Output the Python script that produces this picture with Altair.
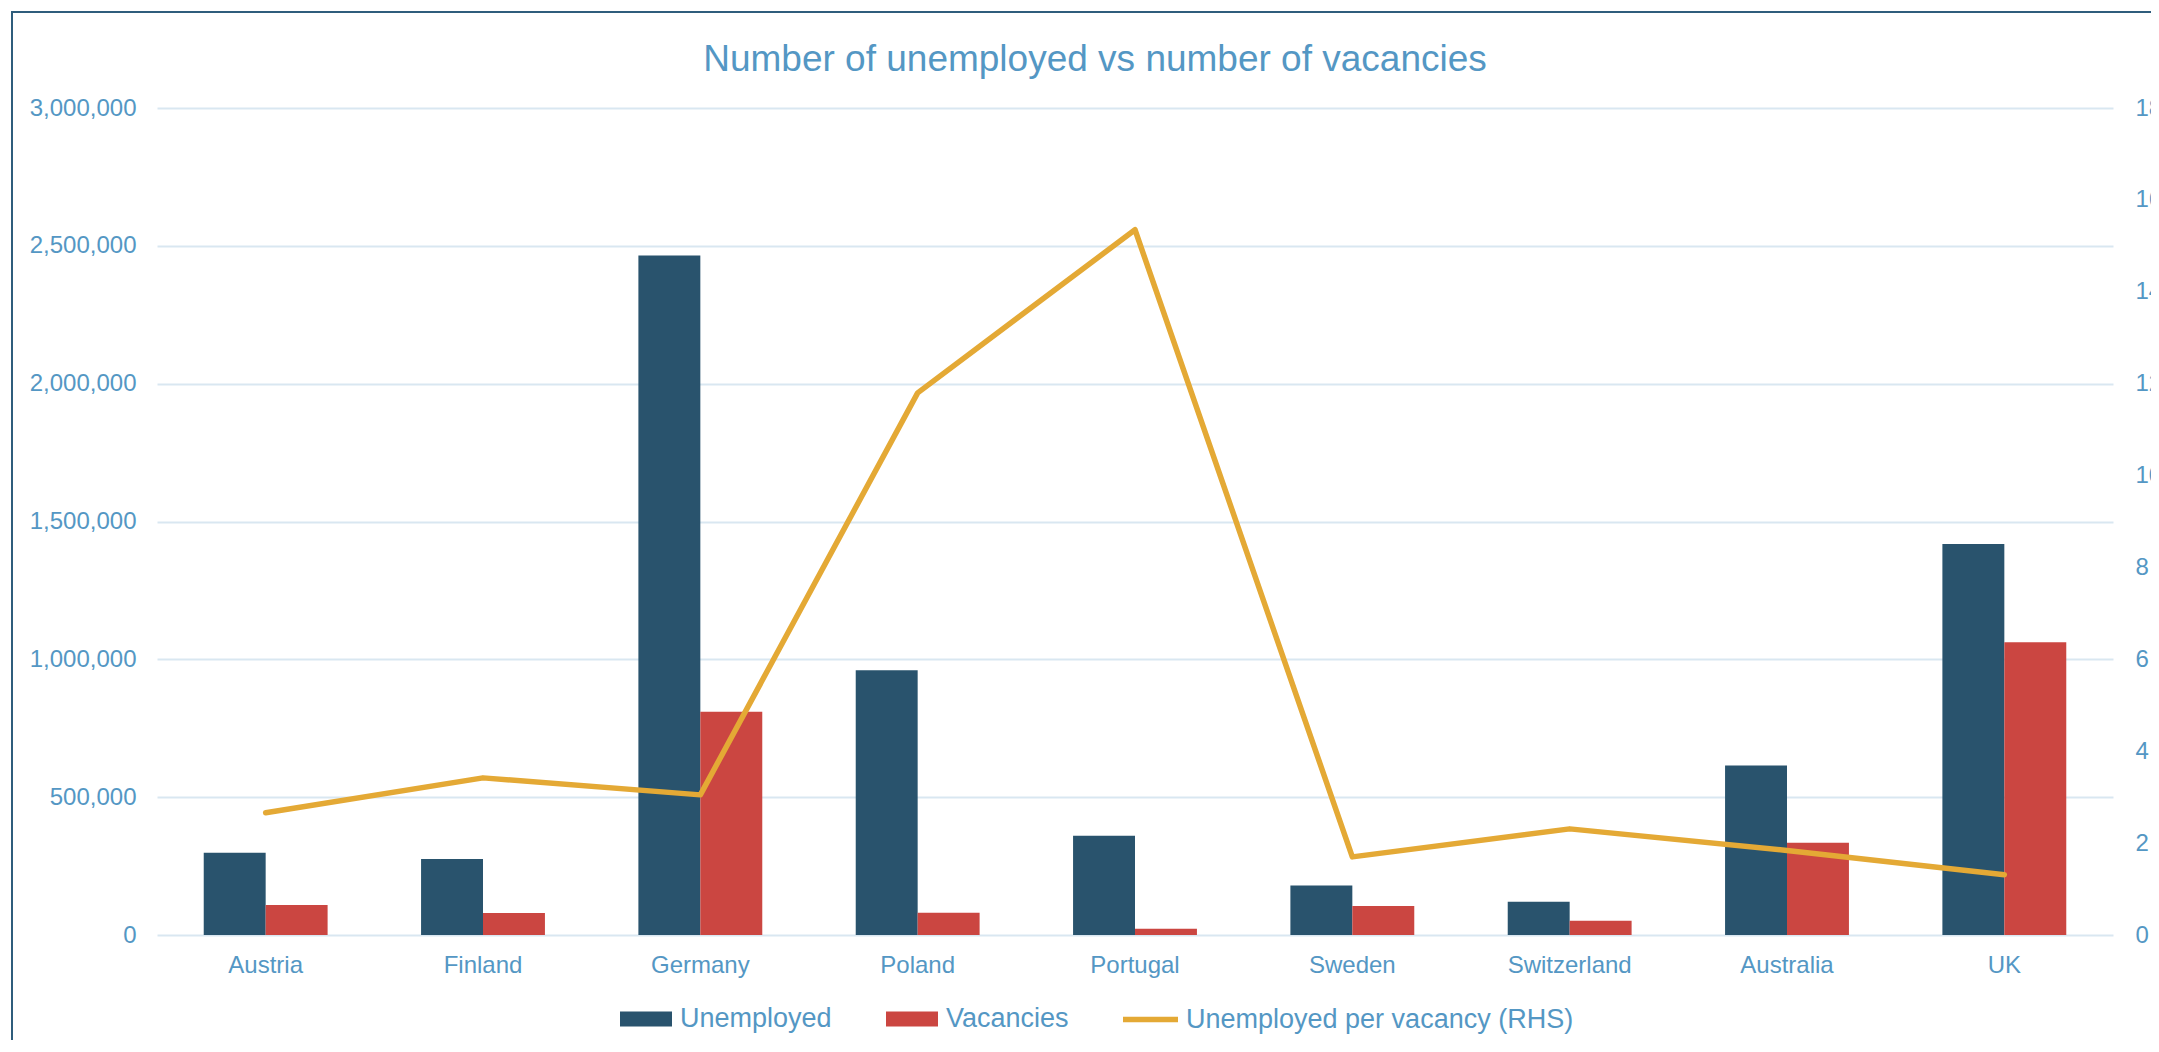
import altair as alt
import pandas as pd

countries = ["Austria", "Finland", "Germany", "Poland", "Portugal",
             "Sweden", "Switzerland", "Australia", "UK"]
unemployed = [298000, 276000, 2465000, 960000, 360000, 180000, 121000, 615000, 1418000]
vacancies = [109000, 80000, 810000, 81000, 23000, 105000, 52000, 335000, 1062000]
per_vacancy = [2.66, 3.42, 3.05, 11.8, 15.35, 1.70, 2.31, 1.84, 1.31]

bar_series = ["Unemployed", "Vacancies"]
line_series = "Unemployed per vacancy (RHS)"
left_ticks = [0, 500000, 1000000, 1500000, 2000000, 2500000, 3000000]
right_ticks = [0, 2, 4, 6, 8, 10, 12, 14, 16, 18]

bar_df = pd.DataFrame({
    "country": countries * 2,
    "series": [bar_series[0]] * len(countries) + [bar_series[1]] * len(countries),
    "value": unemployed + vacancies,
})
line_df = pd.DataFrame({
    "country": countries,
    "series": [line_series] * len(countries),
    "ratio": per_vacancy,
})

FONT = "Liberation Sans"
BLUE = "#5497c4"
NAVY = "#29536d"
RED = "#cb4641"
GOLD = "#e4a935"
GRID = "#d9e7f1"
FRAME = "#2f5d7c"

x_axis = alt.Axis(labelFontSize=24, labelColor=BLUE, labelFont=FONT, labelAngle=0,
                  ticks=False, tickSize=0, domain=False, labelPadding=18, grid=False)
x_scale = alt.Scale(paddingInner=0.43, paddingOuter=0.215)

frame = alt.Chart(pd.DataFrame({"f": [0]})).mark_rect(
    filled=False, stroke=FRAME, strokeWidth=2
).encode(
    x=alt.value(-145), x2=alt.value(2100), y=alt.value(-96), y2=alt.value(1000)
)

bars = alt.Chart(bar_df).mark_bar().encode(
    x=alt.X("country:N", sort=countries, title=None, scale=x_scale, axis=x_axis),
    xOffset=alt.XOffset("series:N", sort=bar_series,
                        scale=alt.Scale(paddingInner=0, paddingOuter=0)),
    y=alt.Y("value:Q", title=None,
            scale=alt.Scale(domain=[0, 3000000], nice=False),
            axis=alt.Axis(values=left_ticks, format=",.0f", grid=True, gridColor=GRID,
                          gridWidth=2, domain=False, ticks=False, tickSize=0,
                          labelPadding=21, labelFontSize=24, labelColor=BLUE,
                          labelFont=FONT)),
    color=alt.Color("series:N",
                    scale=alt.Scale(domain=bar_series, range=[NAVY, RED]),
                    legend=alt.Legend(orient="none", legendX=462, legendY=884,
                                      direction="horizontal", title=None,
                                      symbolType="M-1,-0.29L1,-0.29L1,0.29L-1,0.29Z",
                                      symbolSize=2704, symbolOpacity=1,
                                      labelFontSize=27, labelColor=BLUE, labelFont=FONT,
                                      labelOffset=7, columnPadding=53, labelLimit=0)),
)

line = alt.Chart(line_df).mark_line(strokeWidth=5.5, strokeCap="round",
                                    strokeJoin="round").encode(
    x=alt.X("country:N", sort=countries, title=None, scale=x_scale, axis=x_axis),
    y=alt.Y("ratio:Q", title=None,
            scale=alt.Scale(domain=[0, 18], nice=False),
            axis=alt.Axis(orient="right", values=right_ticks, format="d", grid=False,
                          domain=False, ticks=False, tickSize=0, labelPadding=22,
                          labelFontSize=24, labelColor=BLUE, labelFont=FONT)),
    stroke=alt.Stroke("series:N",
                      scale=alt.Scale(domain=[line_series], range=[GOLD]),
                      legend=alt.Legend(orient="none", legendX=963, legendY=881,
                                        title=None, symbolType="stroke",
                                        symbolSize=3025, symbolStrokeWidth=5.5,
                                        symbolOpacity=1,
                                        labelFontSize=27, labelColor=BLUE,
                                        labelFont=FONT, labelOffset=5, labelLimit=0)),
)

chart = alt.layer(frame, bars, line).resolve_scale(
    y="independent", color="independent", stroke="independent"
).properties(
    width=1956,
    height=827,
    padding={"left": 149, "top": 100, "right": 38, "bottom": 105},
    autosize=alt.AutoSizeParams(type="none"),
    title=alt.TitleParams(
        "Number of unemployed vs number of vacancies",
        fontSize=37, color=BLUE, font=FONT, fontWeight="normal",
        anchor="middle", dx=-40, offset=-97, baseline="alphabetic",
    ),
).configure_view(stroke=None)

chart.save("out.html", embed_options={"renderer": "svg", "actions": False})
